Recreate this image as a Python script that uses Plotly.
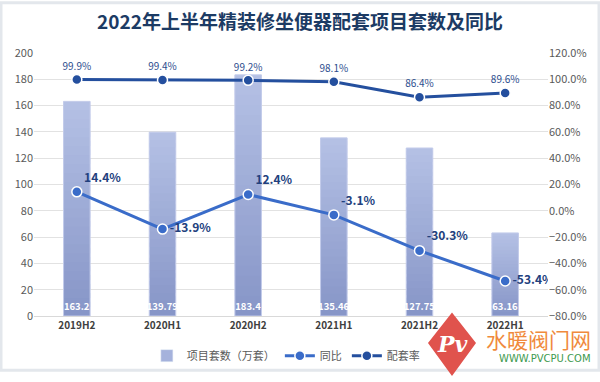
import plotly.graph_objects as go

categories = ["2019H2", "2020H1", "2020H2", "2021H1", "2021H2", "2022H1"]
projects = [163.2, 139.79, 183.4, 135.46, 127.75, 63.16]
yoy = [14.4, -13.9, 12.4, -3.1, -30.3, -53.4]
rate = [99.9, 99.4, 99.2, 98.1, 86.4, 89.6]
bar_labels = ["163.2", "139.79", "183.4", "135.46", "127.75", "63.16"]
yoy_labels = ["14.4%", "-13.9%", "12.4%", "-3.1%", "-30.3%", "-53.4%"]
rate_labels = ["99.9%", "99.4%", "99.2%", "98.1%", "86.4%", "89.6%"]
yoy_pos = ["top right", "middle right", "top right", "top right", "top right", "middle right"]

FONT = "Noto Sans CJK SC, Noto Sans, DejaVu Sans, sans-serif"
W, H = 600, 382
ML, MR, MT, MB = 34, 52, 53, 57
PW, PH = W - ML - MR, H - MT - MB


def px(x):
    return (x - ML) / PW


def py(y):
    return (H - MB - y) / PH


BOTTOM = (0x86, 0x95, 0xc7)
TOP = (0xb5, 0xc1, 0xe5)
N = 24
BAR_W = 0.31

fig = go.Figure()
# gradient bars: each bar split into N stacked slices of its own value
for k in range(N):
    t = (k + 0.5) / N
    c = tuple(round(BOTTOM[i] + (TOP[i] - BOTTOM[i]) * t) for i in range(3))
    col = "rgb(%d,%d,%d)" % c
    frac = 1.0 / N if k == N - 1 else 1.6 / N
    fig.add_trace(go.Bar(
        x=categories, y=[v * frac for v in projects], base=[v * k / N for v in projects],
        width=BAR_W, marker=dict(color=col, line=dict(width=0)),
        name="项目套数（万套）", showlegend=False, hoverinfo="skip",
        legendgroup="bar",
    ))
# outline + labels
fig.add_trace(go.Bar(
    x=categories, y=projects, name="项目套数（万套）", legendgroup="bar",
    width=BAR_W, marker=dict(color="rgba(0,0,0,0)", line=dict(color="#c3cbea", width=1)),
    text=bar_labels, textposition="inside", insidetextanchor="start", textangle=0,
    constraintext="none", cliponaxis=False,
    textfont=dict(color="white", size=9.5, family=FONT, weight="bold"),
    showlegend=False,
))
fig.add_trace(go.Bar(
    x=[None], y=[None], name="项目套数（万套）", legendgroup="bar",
    marker=dict(color="#a5b2dc"), legendrank=1,
))
fig.add_trace(go.Scatter(
    x=categories, y=yoy, name="同比", yaxis="y2", mode="lines+markers+text",
    line=dict(color="#3a6cc9", width=3), legendrank=2,
    marker=dict(size=10, color="#3a6cc9", line=dict(color="white", width=1.5)),
    text=yoy_labels, textposition=yoy_pos,
    textfont=dict(color="#22407d", size=12, family=FONT, weight="bold"),
))
fig.add_trace(go.Scatter(
    x=categories, y=rate, name="配套率", yaxis="y2", mode="lines+markers+text",
    line=dict(color="#244f9e", width=3), legendrank=3,
    marker=dict(size=10, color="#244f9e", line=dict(color="white", width=1.5)),
    text=rate_labels, textposition="top center",
    textfont=dict(color="#2c4d8e", size=10, family=FONT),
))

fig.update_layout(
    width=W, height=H,
    margin=dict(l=ML, r=MR, t=MT, b=MB),
    paper_bgcolor="white", plot_bgcolor="white",
    font=dict(family=FONT, color="#595959", size=11),
    title=dict(text="<b>2022年上半年精装修坐便器配套项目套数及同比</b>",
               x=0.5, xanchor="center", y=1 - 22 / H, yanchor="middle",
               font=dict(size=19, color="#1c3b64", family=FONT)),
    barmode="overlay",
    showlegend=True,
    legend=dict(orientation="h", x=0.49, xanchor="center", y=py(366), yanchor="middle",
                font=dict(size=11, color="#595959"), traceorder="normal",
                bgcolor="rgba(0,0,0,0)", tracegroupgap=0),
    xaxis=dict(type="category", showgrid=False, showline=True, linecolor="#d9d9d9",
               linewidth=1, ticks="", automargin=False,
               tickfont=dict(size=10, color="#404040", weight="bold")),
    yaxis=dict(range=[0, 200], dtick=20, showgrid=True, gridcolor="#e2e2e2",
               zeroline=False, ticks="", automargin=False,
               tickfont=dict(size=11, color="#595959")),
    yaxis2=dict(range=[-80, 120], dtick=20, overlaying="y", side="right",
                showgrid=False, zeroline=False, tickformat=".1f", ticksuffix="%",
                ticks="", automargin=False, tickfont=dict(size=11, color="#595959")),
)

# figure frame
fig.add_shape(type="rect", xref="paper", yref="paper",
              x0=px(1), x1=px(599), y0=py(381), y1=py(1),
              line=dict(color="#e3e7ec", width=3), fillcolor="rgba(0,0,0,0)", layer="below")

# watermark logo
fig.add_shape(type="path", xref="paper", yref="paper",
              path="M %f %f L %f %f L %f %f L %f %f Z" % (
                  px(452), py(328), px(471), py(353), px(452), py(380), px(433), py(353)),
              fillcolor="#e0534d", line=dict(color="#e0534d", width=8))
fig.add_annotation(xref="paper", yref="paper", x=px(452), y=py(354),
                   xanchor="center", yanchor="middle",
                   text="<i><b>Pv</b></i>", showarrow=False,
                   font=dict(size=22, color="white", family="DejaVu Serif"))
fig.add_annotation(xref="paper", yref="paper", x=px(593), y=py(349),
                   xanchor="right", yanchor="middle",
                   text="水暖阀门网", showarrow=False,
                   font=dict(size=21, color="#f08a3c", family=FONT))
fig.add_annotation(xref="paper", yref="paper", x=px(593), y=py(369),
                   xanchor="right", yanchor="middle",
                   text="WWW.PVCPU.COM", showarrow=False,
                   font=dict(size=10, color="#3e9a4e", family="DejaVu Sans"))

fig.write_html("out.html", config={"displayModeBar": False},
               post_script="document.body.style.margin='0';")
